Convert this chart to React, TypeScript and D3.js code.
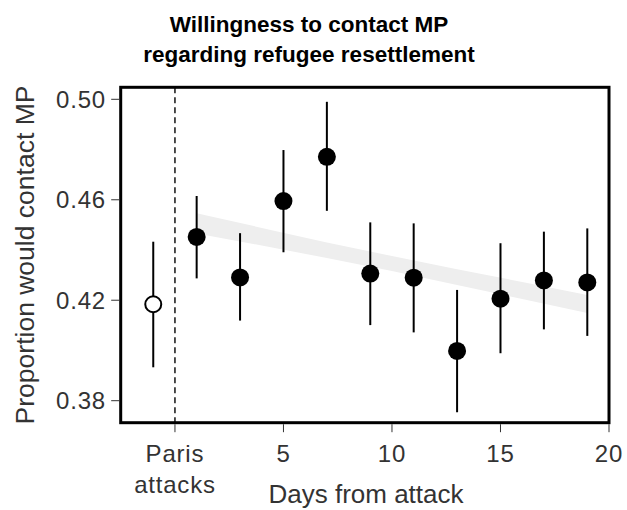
import React from "react";
import * as d3 from "d3";

// days after the Paris attacks, with point estimates and 95% intervals
const days = [1, 3, 5, 7, 9, 11, 13, 15, 17, 19];
const proportions = [0.4452, 0.4291, 0.4595, 0.4771, 0.4306, 0.429, 0.3998, 0.4206, 0.4279, 0.4271];
const ciLower = [0.4287, 0.4119, 0.4391, 0.4556, 0.4101, 0.4072, 0.3754, 0.3989, 0.4084, 0.4058];
const ciUpper = [0.4615, 0.4467, 0.4798, 0.499, 0.451, 0.4506, 0.4241, 0.4427, 0.4473, 0.4486];

// pre-attack baseline (open circle)
const baselineDays = [-1];
const baselineProportions = [0.4184];
const baselineLower = [0.3933];
const baselineUpper = [0.4433];

// fitted trend band
const trendDays = [1, 4, 7, 10, 13, 16, 19];
const trendLower = [0.4466, 0.4418, 0.4368, 0.4316, 0.4261, 0.4205, 0.4149];
const trendUpper = [0.4546, 0.4488, 0.443, 0.4376, 0.4323, 0.4273, 0.4221];

const xTicks = [0, 5, 10, 15, 20];
const xTickLabels = [["Paris", "attacks"], ["5"], ["10"], ["15"], ["20"]];
const yTicks = [0.38, 0.42, 0.46, 0.5];
const yTickLabels = ["0.38", "0.42", "0.46", "0.50"];

const W = 627;
const H = 510;
const left = 120.7;
const right = 609;
const top = 87.3;
const bottom = 422.7;

const font = "'Liberation Sans', Arial, Helvetica, sans-serif";
const grey = "#333";

const App = () => {
  const x = d3.scaleLinear().domain([-2.5, 20]).range([left, right]);
  const y = d3.scaleLinear().domain([0.38, 0.5]).range([400.7, 99.3]);

  const bandData = trendDays.map((d, i) => ({ d, lo: trendLower[i], hi: trendUpper[i] }));
  const band = d3
    .area<{ d: number; lo: number; hi: number }>()
    .x(p => x(p.d))
    .y0(p => y(p.lo))
    .y1(p => y(p.hi));

  return (
    <svg
      width={W}
      height={H}
      style={{ position: "absolute", left: 0, top: 0, background: "#fff" }}
      fontFamily={font}
    >
      <text x={309} y={32} textAnchor="middle" fontWeight="bold" fontSize={22.5} fill="#000">
        Willingness to contact MP
      </text>
      <text x={309} y={62} textAnchor="middle" fontWeight="bold" fontSize={22.5} fill="#000">
        regarding refugee resettlement
      </text>

      <path d={band(bandData) || ""} fill="#eeeeee" />

      <line
        x1={x(0)}
        x2={x(0)}
        y1={top}
        y2={bottom}
        stroke="#000"
        strokeWidth={1.4}
        strokeDasharray="6,4"
      />

      {days.map((d, i) => (
        <g key={d}>
          <line x1={x(d)} x2={x(d)} y1={y(ciLower[i])} y2={y(ciUpper[i])} stroke="#000" strokeWidth={2} />
          <circle cx={x(d)} cy={y(proportions[i])} r={9} fill="#000" />
        </g>
      ))}

      {baselineDays.map((d, i) => (
        <g key={"b" + d}>
          <line
            x1={x(d)}
            x2={x(d)}
            y1={y(baselineLower[i])}
            y2={y(baselineUpper[i])}
            stroke="#000"
            strokeWidth={2}
          />
          <circle cx={x(d)} cy={y(baselineProportions[i])} r={8} fill="#fff" stroke="#000" strokeWidth={2} />
        </g>
      ))}

      <rect x={left} y={top} width={right - left} height={bottom - top} fill="none" stroke="#000" strokeWidth={3} />

      {xTicks.map((t, i) => (
        <g key={"x" + t}>
          <line x1={x(t)} x2={x(t)} y1={bottom + 1.5} y2={bottom + 9.5} stroke={grey} strokeWidth={1} />
          {xTickLabels[i].map((s, j) => (
            <text
              key={j}
              x={x(t)}
              y={461.5 + j * 31.5}
              textAnchor="middle"
              fontSize={24}
              letterSpacing={0.8}
              fill={grey}
            >
              {s}
            </text>
          ))}
        </g>
      ))}

      {yTicks.map((t, i) => (
        <g key={"y" + t}>
          <line x1={left - 9.5} x2={left - 1.5} y1={y(t)} y2={y(t)} stroke={grey} strokeWidth={1} />
          <text x={106} y={y(t) + 8.5} textAnchor="end" fontSize={24} letterSpacing={0.8} fill={grey}>
            {yTickLabels[i]}
          </text>
        </g>
      ))}

      <text x={366} y={503} textAnchor="middle" fontSize={26} fill={grey}>
        Days from attack
      </text>
      <text
        transform={`translate(34, ${(top + bottom) / 2}) rotate(-90)`}
        textAnchor="middle"
        fontSize={26.5}
        fill={grey}
      >
        Proportion would contact MP
      </text>
    </svg>
  );
};

export default App;
